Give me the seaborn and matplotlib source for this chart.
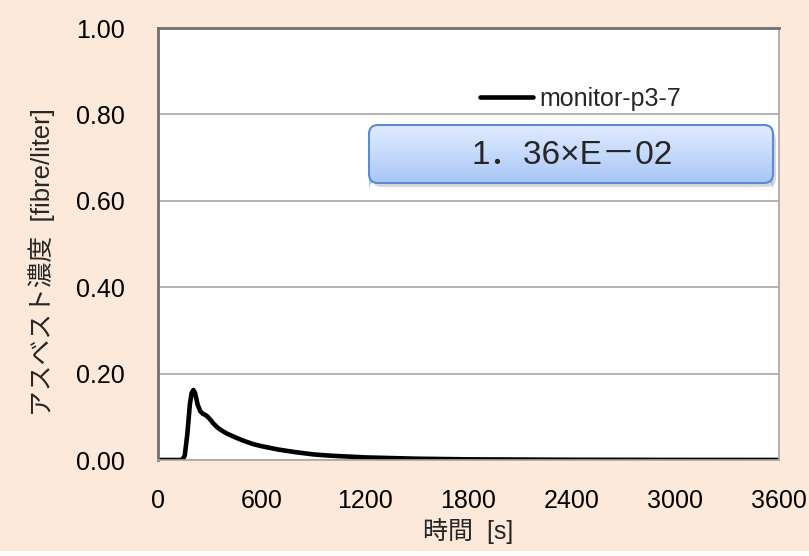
import numpy as np
import pandas as pd
import matplotlib
matplotlib.use("Agg")
import matplotlib.pyplot as plt
import seaborn as sns
from matplotlib.patches import FancyBboxPatch, Rectangle

# time [s] and concentration [fibre/liter]
time_s = [0, 100, 140, 155, 170, 185, 195, 205, 215, 230, 245, 260, 280, 300,
          320, 345, 370, 400, 450, 500, 550, 600, 700, 800, 900, 1000, 1200,
          1500, 1800, 2400, 3000, 3600]
conc = [0.0, 0.0, 0.0, 0.01, 0.06, 0.13, 0.155, 0.162, 0.155, 0.128, 0.113,
        0.107, 0.103, 0.095, 0.085, 0.075, 0.068, 0.061, 0.052, 0.044, 0.037,
        0.032, 0.024, 0.018, 0.013, 0.010, 0.006, 0.003, 0.0015, 0.0005,
        0.0002, 0.0001]
series_name = "monitor-p3-7"
x_ticks = [0, 600, 1200, 1800, 2400, 3000, 3600]
y_ticks = [0.0, 0.2, 0.4, 0.6, 0.8, 1.0]
box_text = "1．36×E－02"

df = pd.DataFrame({"t": time_s, "c": conc})

sns.set_style("white")
plt.rcParams["font.family"] = ["Liberation Sans", "Noto Sans CJK JP", "DejaVu Sans"]

W, H = 809, 556
fig = plt.figure(figsize=(W / 100, H / 100), dpi=100)
fig.patch.set_facecolor("#FDE9D9")
fig.patches.append(Rectangle((0, 0), W, 5, transform=None, facecolor="white",
                             edgecolor="none", zorder=0))
ax = fig.add_axes([158 / W, 1 - 460 / H, 621 / W, 432 / H])

sns.lineplot(data=df, x="t", y="c", ax=ax, color="black", linewidth=3.3,
             label=series_name)

ax.set_xlim(0, 3600)
ax.set_ylim(0, 1.0)
ax.set_xticks(x_ticks)
ax.set_yticks(y_ticks)
ax.set_yticklabels([f"{v:.2f}" for v in y_ticks])
ax.tick_params(axis="both", labelsize=18, length=0, colors="black")
ax.tick_params(axis="x", pad=21)
ax.tick_params(axis="y", pad=24)
ax.grid(axis="y", color="#a6a6a6", linewidth=1.2)
ax.set_axisbelow(True)
for s in ["left", "top"]:
    ax.spines[s].set_color("#707070")
    ax.spines[s].set_linewidth(2)
ax.spines["right"].set_color("#a6a6a6")
ax.spines["right"].set_linewidth(1.2)
ax.spines["bottom"].set_color("#a6a6a6")
ax.spines["bottom"].set_linewidth(1.2)

ax.set_xlabel("時間  [s]", fontsize=18)
ax.set_ylabel("アスベスト濃度  [fibre/liter]", fontsize=18.5)
ax.yaxis.set_label_coords(42 / W, 1 - 262 / H, transform=fig.transFigure)
ax.xaxis.set_label_coords(468 / W, 1 - 531 / H, transform=fig.transFigure)
ax.xaxis.label.set_va("center")
ax.yaxis.label.set_va("center")

leg = ax.legend(loc="center left", bbox_to_anchor=(480 / W, 1 - 99 / H),
                bbox_transform=fig.transFigure, frameon=False, fontsize=18,
                handlelength=2.1, handletextpad=0.28, borderpad=0,
                borderaxespad=0)

# shadow + rounded box with the value
shadow = FancyBboxPatch((372, H - 187), 404, 56, transform=None,
                        boxstyle="round,pad=0,rounding_size=9",
                        facecolor="#b0a8a0", edgecolor="none", alpha=0.45,
                        zorder=4)
fig.patches.append(shadow)
n = 30
for i in range(n):
    f = i / (n - 1)
    col = np.array([0.88, 0.92, 1.0]) * (1 - f) + np.array([0.66, 0.78, 0.96]) * f
    h = 58 * (1 - i / n)
    p = FancyBboxPatch((369, H - 183), 404, h, transform=None,
                       boxstyle="round,pad=0,rounding_size=9",
                       facecolor=col, edgecolor="none", zorder=5)
    fig.patches.append(p)
box = FancyBboxPatch((369, H - 183), 404, 58, transform=None,
                     boxstyle="round,pad=0,rounding_size=9",
                     facecolor="none", edgecolor="#5b8bd0", linewidth=1.5,
                     zorder=6)
fig.patches.append(box)
fig.text(572 / W, 1 - 155 / H, box_text, fontsize=24, ha="center",
         va="center", zorder=7)

fig.savefig("out.png", dpi=100, facecolor=fig.get_facecolor())
